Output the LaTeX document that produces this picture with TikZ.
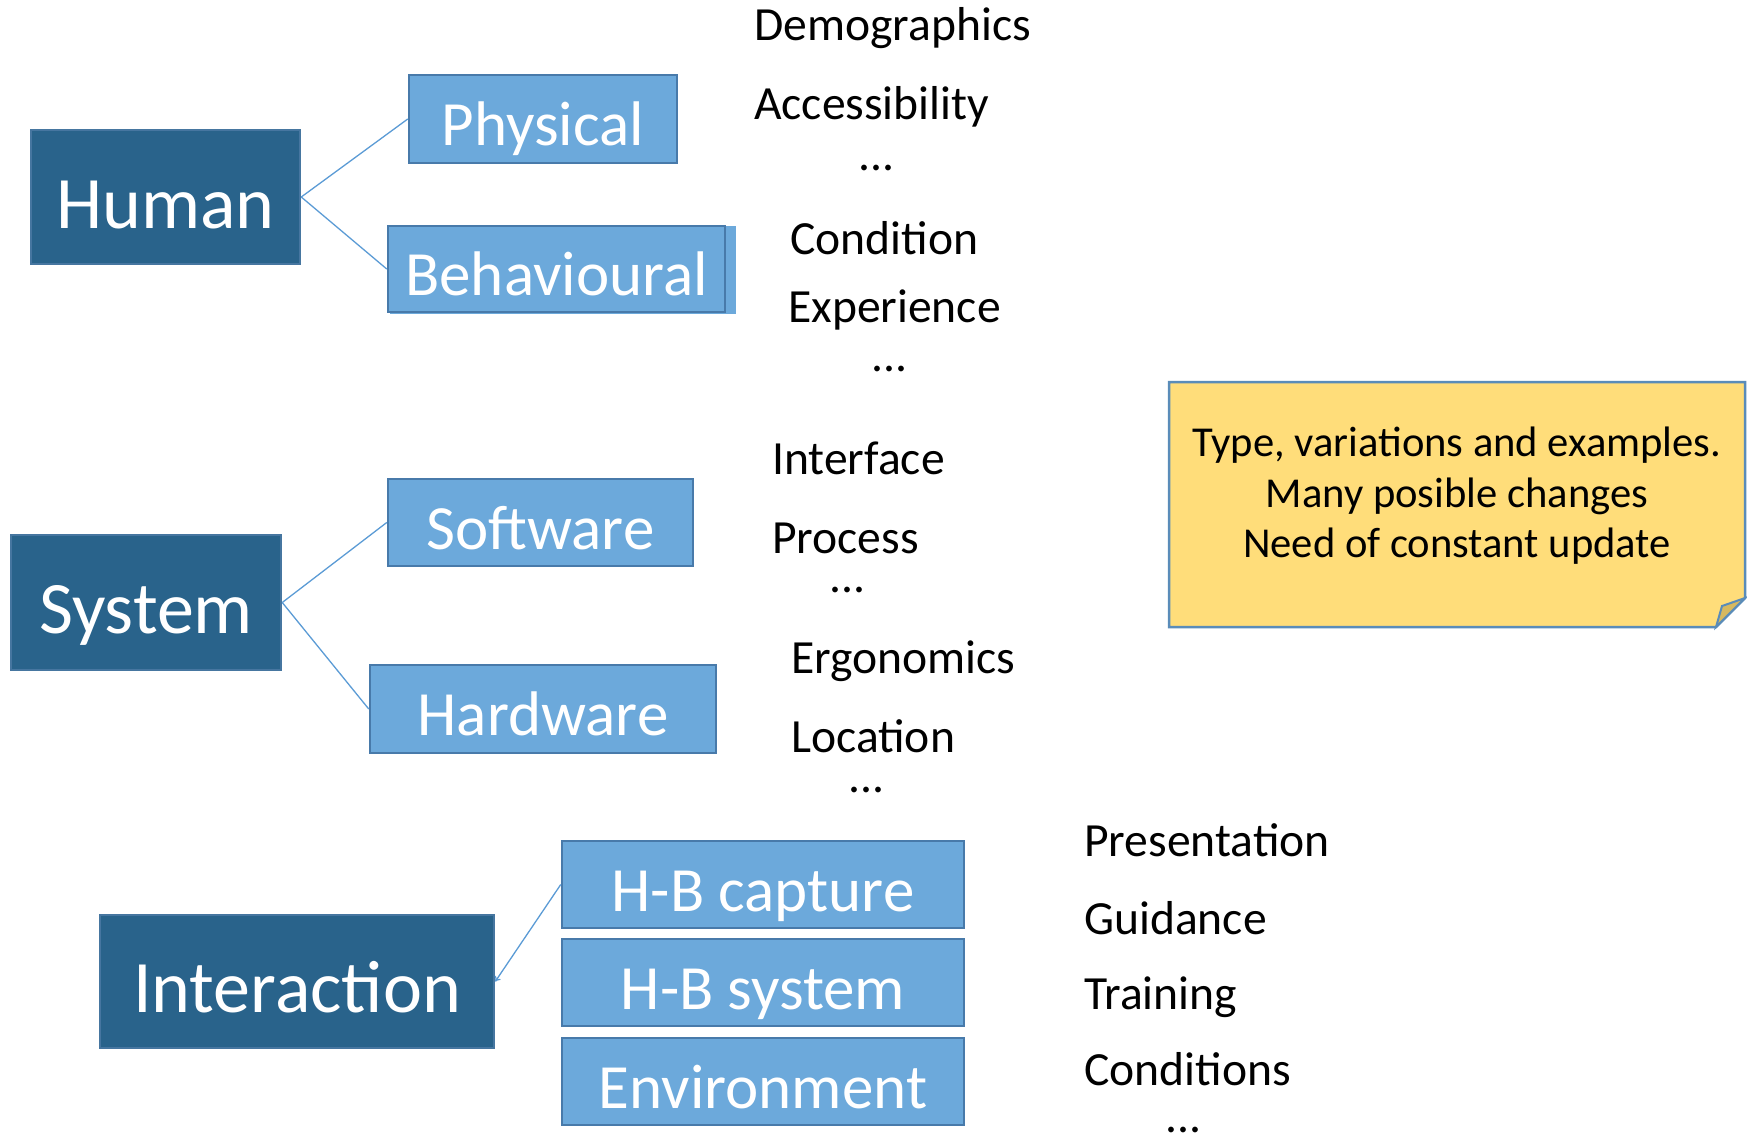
\documentclass[tikz,border=0pt]{standalone}
\usepackage{fontspec}
\setmainfont{Carlito}
\usetikzlibrary{arrows.meta}
\definecolor{darkbox}{RGB}{41,99,139}
\definecolor{darkedge}{RGB}{70,118,160}
\definecolor{lightbox}{RGB}{108,169,219}
\definecolor{lightedge}{RGB}{72,122,170}
\definecolor{notefill}{RGB}{255,221,122}
\definecolor{noteedge}{RGB}{90,140,185}
\definecolor{foldfill}{RGB}{215,185,95}
\definecolor{linkcol}{RGB}{91,155,213}
\begin{document}
\begin{tikzpicture}[x=1pt,y=-1pt,
  mainbox/.style={draw=darkedge, fill=darkbox, line width=2.5pt, text=white,
    font=\fontsize{74}{80}\selectfont, inner sep=0pt, text height=70pt, text depth=8pt},
  subbox/.style={draw=lightedge, fill=lightbox, line width=2.5pt, text=white,
    font=\fontsize{63}{70}\selectfont, inner sep=0pt, text height=60pt, text depth=6.5pt},
  item/.style={anchor=base west, inner sep=0pt, font=\fontsize{47.6}{56}\selectfont},
  dots/.style={anchor=base, inner sep=0pt, font=\fontsize{47.6}{56}\selectfont},
  link/.style={draw=linkcol, line width=1.3pt}]
\useasboundingbox (0,0) rectangle (1747,1140);

% Human group
\node[mainbox, minimum width=269pt, minimum height=134pt] (human) at (165.5,197) {Human};
\node[subbox, minimum width=268pt, minimum height=88pt] (phys) at (543,119) {Physical};
\fill[lightbox] (390,226) rectangle (736,314);
\node[subbox, minimum width=337pt, minimum height=86pt] (behav) at (556.5,269) {Behavioural};
\draw[link] (human.east) -- (phys.west);
\draw[link] (human.east) -- (behav.west);

\node[item] (demo) at (754,41) {Demographics};
\node[item] (acc) at (754,119) {Accessibility};
\node[dots] (d1) at (877,170) {...};
\node[item] (cond) at (790,254) {Condition};
\node[item] (exp) at (788,322) {Experience};
\node[dots] (d2) at (890,371) {...};

% System group
\node[mainbox, minimum width=270pt, minimum height=135pt] (system) at (146,602.5) {System};
\node[subbox, minimum width=305pt, minimum height=87pt] (soft) at (540.5,522.5) {Software};
\node[subbox, minimum width=346pt, minimum height=88pt] (hard) at (543,709) {Hardware};
\draw[link] (system.east) -- (soft.west);
\draw[link] (system.east) -- (hard.west);

\node[item] (iface) at (772,474) {Interface};
\node[item] (proc) at (772,553) {Process};
\node[dots] (d3) at (848,592) {...};
\node[item] (ergo) at (791,673) {Ergonomics};
\node[item] (loc) at (791,752) {Location};
\node[dots] (d4) at (867,792) {...};

% Interaction group
\node[mainbox, minimum width=394pt, minimum height=133pt] (inter) at (297,981.5) {Interaction};
\node[subbox, minimum width=402pt, minimum height=87pt] (capt) at (763,884.5) {H-B capture};
\node[subbox, minimum width=402pt, minimum height=87pt] (hbsys) at (763,982.5) {H-B system};
\node[subbox, minimum width=402pt, minimum height=87pt] (env) at (763,1081.5) {Environment};
\draw[link, -{To[length=5pt,width=7pt]}] (capt.west) -- (inter.east);

\node[item] (pres) at (1084,856) {Presentation};
\node[item] (guid) at (1084,934) {Guidance};
\node[item] (train) at (1084,1009) {Training};
\node[item] (conds) at (1084,1085) {Conditions};
\node[dots] (d5) at (1184,1132) {...};

% Note
\draw[fill=notefill, draw=noteedge, line width=2.5pt, line join=miter]
  (1169,382) -- (1745,382) -- (1745,598) -- (1716,627) -- (1169,627) -- cycle;
\draw[fill=foldfill, draw=noteedge, line width=2pt, line join=miter]
  (1716,627) -- (1722,606) -- (1745,598) -- cycle;
\node[align=center, inner sep=0pt, font=\fontsize{42.6}{50.5}\selectfont] (note) at (1457,496)
  {Type, variations and examples.\\Many posible changes\\Need of constant update};
\end{tikzpicture}
\end{document}
